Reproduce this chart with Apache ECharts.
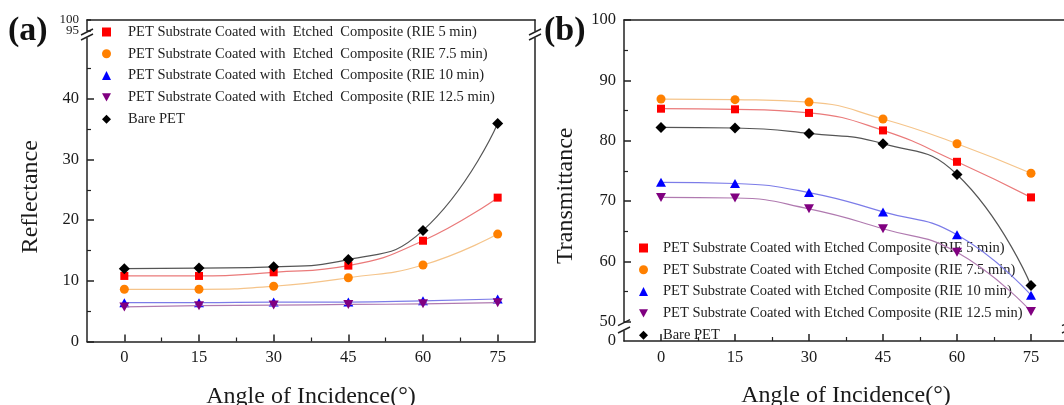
<!DOCTYPE html>
<html><head><meta charset="utf-8">
<script src="https://cdn.jsdelivr.net/npm/echarts@6/dist/echarts.min.js"></script>
<style>html,body{margin:0;padding:0;background:#fff}#c{width:1064px;height:405px}</style>
</head><body><div id="c"></div>
<script>
// ---------- data ----------
const angles = [0, 15, 30, 45, 60, 75];
const namesA = [
  'PET Substrate Coated with  Etched  Composite (RIE 5 min)',
  'PET Substrate Coated with  Etched  Composite (RIE 7.5 min)',
  'PET Substrate Coated with  Etched  Composite (RIE 10 min)',
  'PET Substrate Coated with  Etched  Composite (RIE 12.5 min)',
  'Bare PET'
];
const namesB = [
  'PET Substrate Coated with Etched Composite (RIE 5 min)',
  'PET Substrate Coated with Etched Composite (RIE 7.5 min)',
  'PET Substrate Coated with Etched Composite (RIE 10 min)',
  'PET Substrate Coated with Etched Composite (RIE 12.5 min)',
  'Bare PET '
];
const reflRIE5   = [10.8, 10.8, 11.4, 12.5, 16.6, 23.7];
const reflRIE75  = [8.6, 8.6, 9.1, 10.5, 12.6, 17.7];
const reflRIE10  = [6.4, 6.4, 6.5, 6.5, 6.7, 7.0];
const reflRIE125 = [5.7, 5.9, 6.0, 6.1, 6.2, 6.4];
const reflBare   = [12.0, 12.1, 12.3, 13.5, 18.3, 35.9];

const transRIE5   = [85.3, 85.2, 84.6, 81.7, 76.5, 70.6];
const transRIE75  = [86.9, 86.8, 86.4, 83.6, 79.5, 74.6];
const transRIE10  = [73.1, 72.9, 71.4, 68.2, 64.4, 54.4];
const transRIE125 = [70.6, 70.5, 68.7, 65.4, 61.5, 51.7];
const transBare   = [82.2, 82.1, 81.2, 79.5, 74.4, 56.0];

const xTicks = [0, 15, 30, 45, 60, 75];
const xMinorTicks = [7.5, 22.5, 37.5, 52.5, 67.5];
const reflTicks = [0, 10, 20, 30, 40];
const reflMinorTicks = [5, 15, 25, 35, 45];
const reflTopTicks = [95, 100];
const reflTopLabelLow = [95];
const reflTopLabelHigh = [100];
const transTicks = [50, 60, 70, 80, 90, 100];
const transMinorTicks = [55, 65, 75, 85, 95];
const transBottomTicks = [0];

// ---------- styles ----------
const FONT = 'Liberation Serif';
const AX = '#222';
const markerColors = ['#ff0000', '#ff8000', '#0000ff', '#800080', '#000000'];
const lineColors = ['#ea7a7a', '#f5c48a', '#7c7ce8', '#b07ab0', '#555555'];
const INV_TRI = 'path://M0,0L10,0L5,9Z';
const symbols = ['rect', 'circle', 'triangle', INV_TRI, 'diamond'];
const symSizes = [8, 9, [10, 9], [10, 9], 11];

const XMIN = -7.5, XMAX = 82.5;

function lineOnly(o) {
  return Object.assign({
    type: 'value', axisLine: {show: true, onZero: false, lineStyle: {color: AX, width: 1.5}},
    axisTick: {show: false}, axisLabel: {show: false}, splitLine: {show: false}
  }, o);
}
function mainAxis(o, ticks, fs, labels) {
  return Object.assign({
    type: 'value',
    axisLine: {show: true, onZero: false, lineStyle: {color: AX, width: 1.5}},
    axisTick: {show: true, inside: true, length: 7, customValues: ticks, lineStyle: {color: AX, width: 1.5}},
    axisLabel: {show: true, customValues: labels || ticks, hideOverlap: false, showMinLabel: true, showMaxLabel: true,
      color: '#1a1a1a', fontFamily: FONT, fontSize: fs || 16.5, margin: 8},
    splitLine: {show: false}
  }, o);
}
function minorAxis(o, ticks) {
  return Object.assign({
    type: 'value',
    axisLine: {show: false, onZero: false},
    axisTick: {show: true, inside: true, length: 4, customValues: ticks, lineStyle: {color: AX, width: 1.2}},
    axisLabel: {show: false}, splitLine: {show: false}
  }, o);
}

const gb = {outerBoundsMode: 'none', containLabel: false};
const grids = [
  Object.assign({left: 87, top: 38, width: 448, height: 303.5}, gb),   // 0 (a) lower
  Object.assign({left: 87, top: 20, width: 448, height: 11}, gb),      // 1 (a) upper
  Object.assign({left: 624, top: 20, width: 444, height: 301.7}, gb),  // 2 (b) upper
  Object.assign({left: 624, top: 331, width: 444, height: 10}, gb)     // 3 (b) lower
];

const xName = {name: 'Angle of Incidence(°)', nameLocation: 'middle', nameGap: 43,
  nameTextStyle: {fontFamily: FONT, fontSize: 24, color: '#1a1a1a'}};

const xAxes = [
  mainAxis(Object.assign({gridIndex: 0, position: 'bottom', min: XMIN, max: XMAX}, xName), xTicks), // 0
  minorAxis({gridIndex: 0, position: 'bottom', min: XMIN, max: XMAX}, xMinorTicks),                 // 1
  lineOnly({gridIndex: 1, position: 'top', min: XMIN, max: XMAX}),                                  // 2
  lineOnly({gridIndex: 2, position: 'top', min: XMIN, max: XMAX}),                                  // 3
  mainAxis(Object.assign({gridIndex: 3, position: 'bottom', min: XMIN, max: XMAX}, xName), xTicks), // 4
  minorAxis({gridIndex: 3, position: 'bottom', min: XMIN, max: XMAX}, xMinorTicks)                  // 5
];
const yAxes = [
  mainAxis({gridIndex: 0, position: 'left', min: 0, max: 50}, reflTicks),        // 0
  minorAxis({gridIndex: 0, position: 'left', min: 0, max: 50}, reflMinorTicks),  // 1
  lineOnly({gridIndex: 0, position: 'right', min: 0, max: 50}),                  // 2
  mainAxis({gridIndex: 1, position: 'left', min: 95, max: 100}, reflTopTicks, 13, reflTopLabelLow), // 3
  lineOnly({gridIndex: 1, position: 'right', min: 95, max: 100}),                // 4
  mainAxis({gridIndex: 2, position: 'left', min: 50, max: 100}, transTicks),     // 5
  minorAxis({gridIndex: 2, position: 'left', min: 50, max: 100}, transMinorTicks),// 6
  lineOnly({gridIndex: 2, position: 'right', min: 50, max: 100}),                // 7
  mainAxis({gridIndex: 3, position: 'left', min: 0, max: 1}, transBottomTicks),  // 8
  lineOnly({gridIndex: 3, position: 'right', min: 0, max: 1}),                   // 9
  mainAxis({gridIndex: 1, position: 'left', min: 95, max: 100}, reflTopLabelHigh, 13) // 10
];
yAxes[8].axisTick.show = false;
yAxes[3].axisTick.length = 4;
yAxes[3].axisLabel.padding = [3, 0, 0, 0];
yAxes[10].axisTick.show = false;
yAxes[10].axisLine.show = false;
yAxes[10].axisLabel.padding = [0, 0, 6, 0];

function mk(name, vals, i, xIdx, yIdx) {
  return {
    name: name, type: 'line', xAxisIndex: xIdx, yAxisIndex: yIdx,
    data: angles.map((a, k) => [a, vals[k]]),
    smooth: 0.5,
    symbol: symbols[i], symbolSize: symSizes[i], showSymbol: true,
    itemStyle: {color: markerColors[i]},
    lineStyle: {color: lineColors[i], width: 1.2},
    z: 2 + i
  };
}
const reflSets = [reflRIE5, reflRIE75, reflRIE10, reflRIE125, reflBare];
const transSets = [transRIE5, transRIE75, transRIE10, transRIE125, transBare];
const series = [];
reflSets.forEach((v, i) => series.push(mk(namesA[i], v, i, 0, 0)));
transSets.forEach((v, i) => series.push(mk(namesB[i], v, i, 3, 5)));

function legendCfg(names, left, top, padLeft) {
  return {
    orient: 'vertical', left: left, top: top, padding: 0,
    itemWidth: 9, itemHeight: 9, itemGap: 5.8,
    selectedMode: false,
    data: names.map((n, i) => ({name: n, icon: symbols[i]})),
    textStyle: {fontFamily: FONT, fontSize: 14.5, color: '#222', lineHeight: 16, padding: [0, 0, 0, padLeft]}
  };
}

const chart = echarts.init(document.getElementById('c'), null, {renderer: 'canvas'});
chart.setOption({
  animation: false,
  backgroundColor: '#fff',
  title: [
    {text: '(a)', left: 8, top: 14, padding: 0, textStyle: {fontFamily: FONT, fontSize: 34, fontWeight: 'bold', color: '#111'}},
    {text: '(b)', left: 544, top: 14, padding: 0, textStyle: {fontFamily: FONT, fontSize: 34, fontWeight: 'bold', color: '#111'}}
  ],
  grid: grids,
  xAxis: xAxes,
  yAxis: yAxes,
  legend: [legendCfg(namesA, 102, 24, 12), legendCfg(namesB, 639, 240, 10)],
  series: series
});

// ---------- axis-break marks and y titles, positioned from the axes ----------
function px(xIdx, yIdx, x, y) { return chart.convertToPixel({xAxisIndex: xIdx, yAxisIndex: yIdx}, [x, y]); }
function slashes(x, yTop, yBot) {
  const els = [];
  [yTop, yBot].forEach(y => {
    els.push({type: 'line', shape: {x1: x - 6, y1: y + 3, x2: x + 6, y2: y - 3},
      style: {stroke: AX, lineWidth: 1.4}, z: 100});
  });
  return els;
}
const aTop = px(2, 3, XMIN, 95)[1];
const aBot = px(0, 0, XMIN, 50)[1];
const aL = px(0, 0, XMIN, 0)[0], aR = px(0, 0, XMAX, 0)[0];
const bTop = px(3, 5, XMIN, 50)[1];
const bBot = px(4, 8, XMIN, 1)[1];
const bL = px(4, 8, XMIN, 0)[0], bR = px(4, 8, XMAX, 0)[0];
const aMid = (px(0, 0, XMIN, 0)[1] + px(2, 3, XMIN, 100)[1]) / 2;

const graphics = []
  .concat(slashes(aL, aTop + 1, aBot - 1))
  .concat(slashes(aR, aTop + 1, aBot - 1))
  .concat(slashes(bL, bTop + 1, bBot - 1))
  .concat(slashes(bR, bTop + 1, bBot - 1));
graphics.push({type: 'text', x: aL - 56.5, y: aMid + 16, rotation: Math.PI / 2,
  style: {text: 'Reflectance', fontFamily: FONT, fontSize: 24, fill: '#1a1a1a', align: 'center', verticalAlign: 'middle'}});
graphics.push({type: 'text', x: bL - 58, y: aMid + 15, rotation: Math.PI / 2,
  style: {text: 'Transmittance', fontFamily: FONT, fontSize: 24, fill: '#1a1a1a', align: 'center', verticalAlign: 'middle'}});
chart.setOption({graphic: graphics});
</script>
</body></html>
